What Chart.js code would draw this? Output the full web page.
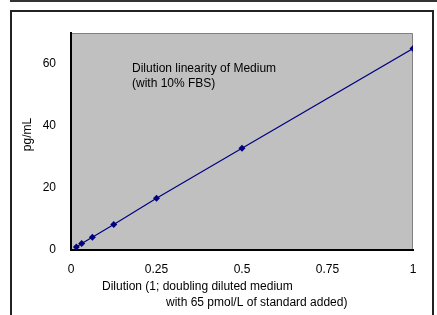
<!DOCTYPE html>
<html><head><meta charset="utf-8">
<script src="https://cdn.jsdelivr.net/npm/chart.js@4/dist/chart.umd.min.js"></script>
<style>
html,body{margin:0;padding:0;background:#fff;}
#wrap{position:relative;width:437px;height:315px;overflow:hidden;}
#topbar{position:absolute;left:10px;top:0;width:427px;height:2px;background:#333;}
#frame{position:absolute;left:10px;top:10px;width:424px;height:320px;border:2px solid #222;box-sizing:border-box;}
canvas{position:absolute;left:0;top:0;}
</style></head>
<body><div id="wrap"><div id="topbar"></div><div id="frame"></div><canvas id="c" width="437" height="315"></canvas></div>
<script>
const dilution = [0.015625, 0.03125, 0.0625, 0.125, 0.25, 0.5, 1];
const pgPerML = [1.0, 2.1, 4.1, 8.2, 16.7, 32.8, 65.0];
const xTicks = [0, 0.25, 0.5, 0.75, 1];
const xTickLabels = ['0', '0.25', '0.5', '0.75', '1'];
const yTicks = [0, 20, 40, 60];
const yTitle = 'pg/mL';
const xTitle = ['Dilution (1; doubling diluted medium', 'with 65 pmol/L of standard added)'];
const noteLines = ['Dilution linearity of Medium', '(with 10% FBS)'];

const FONT = 'Liberation Sans, Arial, sans-serif';

const decor = {
  id: 'decor',
  beforeDraw(chart) {
    const {ctx, chartArea: a} = chart;
    ctx.save();
    ctx.fillStyle = '#C0C0C0';
    ctx.fillRect(a.left, a.top, a.right - a.left, a.bottom - a.top);
    ctx.strokeStyle = '#808080';
    ctx.lineWidth = 1;
    ctx.beginPath();
    ctx.moveTo(a.left, a.top + 0.5);
    ctx.lineTo(a.right - 0.5, a.top + 0.5);
    ctx.lineTo(a.right - 0.5, a.bottom);
    ctx.stroke();
    ctx.restore();
  },
  afterDraw(chart) {
    const {ctx, chartArea: a} = chart;
    ctx.save();
    ctx.fillStyle = '#000';
    ctx.font = '12px ' + FONT;
    ctx.textBaseline = 'middle';
    ctx.textAlign = 'left';
    ctx.fillText(noteLines[0], a.left + 61, a.top + 36);
    ctx.fillText(noteLines[1], a.left + 61, a.top + 51);
    ctx.fillText(xTitle[0], a.left + 31, a.bottom + 37);
    ctx.fillText(xTitle[1], a.left + 95, a.bottom + 53);
    ctx.translate(28, (a.top + a.bottom) / 2 - 7);
    ctx.rotate(-Math.PI / 2);
    ctx.textAlign = 'center';
    ctx.fillText(yTitle, 0, 0);
    ctx.restore();
  }
};

new Chart(document.getElementById('c'), {
  type: 'scatter',
  data: {
    datasets: [{
      data: dilution.map((x, i) => ({x, y: pgPerML[i]})),
      showLine: true,
      borderColor: '#000080',
      backgroundColor: '#000080',
      borderWidth: 1.2,
      pointStyle: 'rectRot',
      pointRadius: 3.5,
      pointBorderWidth: 0
    }]
  },
  options: {
    responsive: false,
    animation: false,
    devicePixelRatio: 1,
    layout: {padding: {left: 0, right: 24, top: 33, bottom: 0}},
    plugins: {legend: {display: false}, tooltip: {enabled: false}},
    scales: {
      x: {
        type: 'linear', min: 0, max: 1,
        afterBuildTicks: s => { s.ticks = xTicks.map(v => ({value: v})); },
        afterFit: s => { s.height = 65; },
        grid: {display: false, drawTicks: false},
        border: {color: '#000', width: 2},
        ticks: {padding: 12, color: '#000', font: {family: FONT, size: 12},
          callback: (v) => xTickLabels[xTicks.indexOf(v)] ?? ''}
      },
      y: {
        type: 'linear', min: 0, max: 70,
        afterBuildTicks: s => { s.ticks = yTicks.map(v => ({value: v})); },
        afterFit: s => { s.width = 71; },
        grid: {display: false, drawTicks: false},
        border: {color: '#000', width: 2},
        ticks: {padding: 15, color: '#000', font: {family: FONT, size: 12}}
      }
    }
  },
  plugins: [decor]
});
</script></body></html>
